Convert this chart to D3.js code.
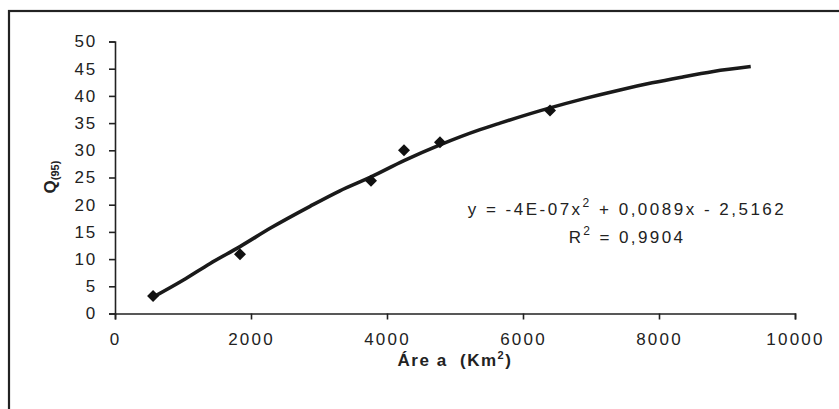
<!DOCTYPE html>
<html>
<head>
<meta charset="utf-8">
<script src="https://cdn.jsdelivr.net/npm/d3@7"></script>
<style>
  html, body { margin: 0; padding: 0; background: #fff; }
  svg text { font-family: "Liberation Sans", Arial, sans-serif; fill: #222; }
</style>
</head>
<body>
<svg id="chart" width="839" height="409"></svg>
<script>
// Observed data points (area in km², Q95)
const areaValues = [560, 1838, 3765, 4250, 4779, 6397];
const qValues = [3.2, 10.9, 24.4, 30.0, 31.5, 37.3];

// Trendline points
const trendX = [560, 1000, 1400, 1838, 2300, 2868, 3300, 3765, 4250, 4779, 5368, 5662, 6397, 6900, 7426, 7900, 8309, 8800, 9349];
const trendY = [3.0, 6.1, 9.2, 12.3, 15.8, 19.7, 22.5, 25.1, 28.1, 31.0, 33.8, 35.0, 37.8, 39.5, 41.1, 42.4, 43.4, 44.5, 45.4];

const xTicks = [0, 2000, 4000, 6000, 8000, 10000];
const yTicks = [0, 5, 10, 15, 20, 25, 30, 35, 40, 45, 50];

const eqText = ["y = -4E-07x", "2", " + 0,0089x - 2,5162"];
const r2Text = ["R", "2", " = 0,9904"];

const svg = d3.select("#chart");
const ink = "#222";

// outer frame (cut by the window on right and bottom)
svg.append("rect")
  .attr("x", 9).attr("y", 11)
  .attr("width", 860).attr("height", 440)
  .attr("fill", "none").attr("stroke", ink).attr("stroke-width", 2.2);

const x = d3.scaleLinear().domain([0, 10000]).range([115, 795]);
const y = d3.scaleLinear().domain([0, 50]).range([313.5, 41.5]);

// X axis
const xAxis = svg.append("g")
  .attr("transform", `translate(0,${y(0)})`)
  .call(d3.axisBottom(x).tickValues(xTicks).tickSize(6).tickSizeOuter(6).tickPadding(13).tickFormat(d3.format("d")));
xAxis.select(".domain").attr("stroke", ink).attr("stroke-width", 1.6);
xAxis.selectAll(".tick line").attr("stroke", ink).attr("stroke-width", 1.6);
xAxis.selectAll("text").attr("font-size", 17).attr("letter-spacing", "2.2px").attr("fill", ink)
  .attr("font-family", "Liberation Sans, Arial, sans-serif");

// Y axis
const yAxis = svg.append("g")
  .attr("transform", `translate(${x(0)},0)`)
  .call(d3.axisLeft(y).tickValues(yTicks).tickSize(6).tickSizeOuter(6).tickPadding(12).tickFormat(d3.format("d")));
yAxis.select(".domain").attr("stroke", ink).attr("stroke-width", 1.6);
yAxis.selectAll(".tick line").attr("stroke", ink).attr("stroke-width", 1.6);
yAxis.selectAll("text").attr("font-size", 17).attr("letter-spacing", "1.8px").attr("fill", ink)
  .attr("font-family", "Liberation Sans, Arial, sans-serif");

// Trendline
const pts = trendX.map((v, i) => [v, trendY[i]]);
svg.append("path")
  .datum(pts)
  .attr("fill", "none")
  .attr("stroke", "#1a1a1a")
  .attr("stroke-width", 3.6)
  .attr("stroke-linejoin", "round")
  .attr("d", d3.line().x(d => x(d[0])).y(d => y(d[1])).curve(d3.curveMonotoneX));

// Data markers (diamonds)
const diamond = d3.symbol().type(d3.symbolSquare).size(72);
svg.append("g").selectAll("path")
  .data(areaValues.map((v, i) => [v, qValues[i]]))
  .join("path")
  .attr("d", diamond)
  .attr("fill", "#111")
  .attr("transform", d => `translate(${x(d[0])},${y(d[1])}) rotate(45)`);

// Equation text
const eq = svg.append("text")
  .attr("x", 627).attr("y", 215)
  .attr("text-anchor", "middle")
  .attr("font-size", 17).attr("letter-spacing", "2.5px");
eq.append("tspan").text(eqText[0]);
eq.append("tspan").attr("dy", -8).attr("font-size", 12).text(eqText[1]);
eq.append("tspan").attr("dy", 8).text(eqText[2]);

const r2 = svg.append("text")
  .attr("x", 627).attr("y", 243)
  .attr("text-anchor", "middle")
  .attr("font-size", 17).attr("letter-spacing", "2.4px");
r2.append("tspan").text(r2Text[0]);
r2.append("tspan").attr("dy", -8).attr("font-size", 12).text(r2Text[1]);
r2.append("tspan").attr("dy", 8).text(r2Text[2]);

// X axis title
const xt = svg.append("text")
  .attr("x", 455).attr("y", 366)
  .attr("text-anchor", "middle")
  .attr("font-size", 17).attr("font-weight", "bold").attr("letter-spacing", "1.5px")
  .attr("xml:space", "preserve").style("white-space", "pre");
xt.append("tspan").text("Áre a  (Km");
xt.append("tspan").attr("dy", -7).attr("font-size", 11).text("2");
xt.append("tspan").attr("dy", 7).text(")");

// Y axis title
const yt = svg.append("text")
  .attr("transform", "translate(56,177) rotate(-90)")
  .attr("text-anchor", "middle")
  .attr("font-size", 17).attr("font-weight", "bold");
yt.append("tspan").text("Q");
yt.append("tspan").attr("dy", 3).attr("font-size", 11).text("(95)");
</script>
</body>
</html>
